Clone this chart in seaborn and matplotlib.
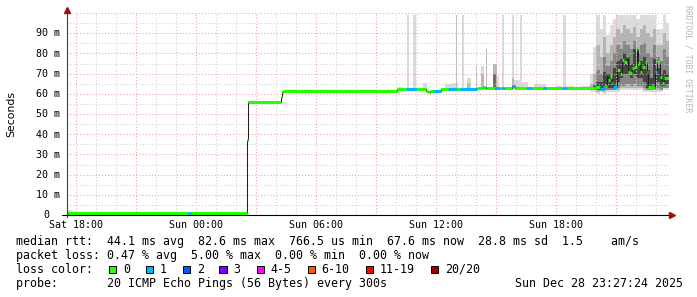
import matplotlib
matplotlib.use("Agg")
import matplotlib.pyplot as plt
from matplotlib.patches import Rectangle
from matplotlib.ticker import MultipleLocator, NullFormatter
from matplotlib import transforms
import numpy as np
import pandas as pd
import seaborn as sns

# ---------------- data (hours relative to Sun 00:00, values in ms) ----------------
x_end = 23.63
x_start = -6.45

# median rtt step segments: start hour, median ms, loss count (of 20)
med_start = [-6.45, -0.40, -0.25, 2.52, 2.60, 4.22, 4.29, 4.36, 10.05, 10.50, 11.02,
             11.50, 11.60, 11.70, 11.85, 12.25, 12.60, 13.05, 13.20, 14.04, 14.35,
             14.44, 14.53, 14.94, 15.18, 15.27, 15.43, 15.77, 15.94, 16.52, 16.77,
             17.33, 17.52, 18.28, 18.52, 19.94, 20.19, 20.32, 20.44, 20.52, 20.60,
             20.69, 20.77, 20.85, 21.02, 21.19, 21.30, 21.40, 21.52, 21.60, 21.69,
             21.80, 21.90, 22.02, 22.10, 22.19, 22.30, 22.44, 22.52, 22.60, 22.72,
             22.82, 22.93, 23.02, 23.19, 23.27, 23.39, 23.49]
med_ms = [0.8, 0.8, 0.8, 37.0, 56.0, 58.6, 61.0, 61.5, 62.2, 62.6, 62.4,
          61.6, 61.0, 61.6, 61.4, 62.4, 62.6, 62.6, 62.6, 62.7, 63.6,
          62.7, 62.7, 62.7, 62.7, 62.7, 62.7, 63.9, 62.7, 62.7, 62.7,
          62.7, 62.7, 62.7, 62.7, 63.5, 62.5, 63.5, 64.0, 69.6, 66.8,
          68.5, 65.2, 63.5, 72.0, 70.0, 76.7, 75.9, 78.4, 71.0, 70.1,
          72.6, 73.4, 82.2, 75.1, 71.0, 73.4, 75.9, 71.0, 63.5, 63.5,
          63.0, 71.0, 75.9, 68.5, 65.2, 67.7, 67.6]
med_loss = [0, 1, 0, 0, 0, 0, 0, 0, 0, 1, 0,
            0, 0, 0, 1, 0, 1, 0, 1, 0, 0,
            1, 0, 1, 0, 1, 0, 1, 0, 1, 0,
            1, 0, 1, 0, 0, 1, 1, 0, 0, 0,
            0, 0, 1, 0, 0, 0, 0, 0, 0, 0,
            0, 0, 0, 0, 0, 0, 0, 0, 0, 0,
            0, 1, 0, 0, 0, 0, 0]

# isolated smoke bursts: start hour, end hour, low ms, high ms, shade level
spike_t0 = [-6.40, -0.25, 10.10, 10.52, 10.83, 11.34, 12.43, 12.78, 12.99, 13.27, 13.52, 13.55,
            13.97, 14.24, 14.26, 14.49, 14.84, 14.86, 15.04, 15.27, 15.77, 15.79, 15.89, 16.19,
            16.29, 16.90, 18.00, 18.33, 18.49, 19.20]
spike_t1 = [-6.20, -0.15, 10.27, 10.64, 10.99, 11.54, 12.78, 13.09, 13.05, 13.39, 13.72, 13.68,
            14.05, 14.39, 14.37, 14.54, 15.04, 15.00, 15.14, 15.39, 15.89, 15.88, 16.19, 16.29,
            16.60, 17.50, 18.30, 18.49, 18.90, 19.67]
spike_lo = [0.0, 0.0, 61.5, 61.5, 61.5, 61.5, 62.0, 62.0, 62.0, 62.0, 62.0, 62.0,
            62.0, 62.0, 62.0, 62.0, 62.0, 62.0, 62.0, 62.0, 62.0, 62.0, 62.0, 62.0,
            62.0, 62.0, 62.0, 62.0, 62.0, 62.0]
spike_hi = [2.5, 1.6, 63.5, 99.0, 99.0, 65.5, 65.0, 65.5, 99.0, 99.0, 68.0, 65.5,
            74.0, 74.0, 70.0, 82.0, 75.0, 70.0, 69.0, 99.0, 99.0, 68.0, 67.0, 99.0,
            66.0, 65.0, 64.0, 99.0, 64.0, 64.0]
spike_level = [0, 0, 0, 0, 0, 0, 0, 0, 1, 0, 0, 1,
               1, 0, 1, 1, 1, 2, 0, 0, 0, 1, 0, 0,
               0, 0, 0, 0, 0, 0]

# dense smoke at the end of the day, 10 minute bins
smoke_t = [19.67, 19.83, 20.00, 20.17, 20.33, 20.50, 20.67, 20.83, 21.00, 21.17, 21.33, 21.50,
           21.67, 21.83, 22.00, 22.17, 22.33, 22.50, 22.67, 22.83, 23.00, 23.17, 23.33, 23.50]
l1_hi = [70, 83, 99, 92, 99, 89, 94, 97, 99, 99, 99, 99, 99, 99, 97, 99, 99, 99, 99, 99, 92, 92, 99, 95]
l1_lo = [61, 61, 60, 61, 60, 61, 61, 61, 61, 62, 62, 62, 62, 62, 62, 62, 61, 61, 61, 61, 61, 61, 62, 62]
l2_hi = [65, 70, 84, 78, 88, 80, 84, 88, 92, 90, 94, 92, 90, 93, 88, 92, 94, 90, 88, 92, 84, 84, 90, 86]
l2_lo = [62, 62, 61, 62, 61, 62, 62, 62, 62, 63, 63, 63, 63, 63, 63, 63, 62, 62, 62, 62, 62, 62, 63, 63]
l3_hi = [63, 65, 72, 70, 78, 74, 76, 80, 84, 82, 86, 84, 82, 86, 80, 84, 85, 80, 78, 84, 78, 76, 82, 78]
l3_lo = [62, 62, 62, 62, 62, 62, 62, 62, 63, 64, 64, 65, 64, 65, 64, 64, 63, 62, 62, 63, 63, 62, 63, 63]
l4_hi = [62.5, 64, 66, 66, 71, 70, 69, 73, 76, 77, 80, 78, 75, 82, 74, 76, 78, 72, 68, 77, 73, 70, 72, 70]
l4_lo = [62, 62, 62, 62, 63, 63, 63, 63, 66, 68, 70, 70, 68, 70, 68, 68, 66, 63, 63, 65, 66, 64, 64, 65]

loss_keys = [0, 1, 2, 3, 4, 6, 11, 20]
loss_labels = ["0", "1", "2", "3", "4-5", "6-10", "11-19", "20/20"]
loss_colors = ["#26ff00", "#00b8ff", "#0059ff", "#7e00ff", "#ff00ff", "#ff5500", "#ff0000", "#a10000"]

x_tick_hours = [-6, 0, 6, 12, 18]
x_tick_labels = ["Sat 18:00", "Sun 00:00", "Sun 06:00", "Sun 12:00", "Sun 18:00"]
y_tick_vals = [0, 10, 20, 30, 40, 50, 60, 70, 80, 90]
y_tick_labels = ["0", "10 m", "20 m", "30 m", "40 m", "50 m", "60 m", "70 m", "80 m", "90 m"]

legend_lines = [
    "median rtt:  44.1 ms avg  82.6 ms max  766.5 us min  67.6 ms now  28.8 ms sd  1.5    am/s",
    "packet loss: 0.47 % avg  5.00 % max  0.00 % min  0.00 % now",
    "loss color:",
    "probe:       20 ICMP Echo Pings (56 Bytes) every 300s",
]
date_text = "Sun Dec 28 23:27:24 2025"

# ---------------- layout ----------------
W, H = 697, 297
L, R, T, B = 67, 669, 13, 215
def fx(px): return px / W
def fy(py): return 1 - py / H
def axx(px): return (px - L) / (R - L)
def axy(py): return (B - py) / (B - T)

sns.set_theme(style="white")
plt.rcParams["font.family"] = ["DejaVu Sans Mono", "DejaVu Sans"]
MONO = "DejaVu Sans Mono"

fig = plt.figure(figsize=(W / 100, H / 100), dpi=100, facecolor="white")
ax = fig.add_axes([fx(L), fy(B), (R - L) / W, (B - T) / H])
ax.set_facecolor("white")
ax.set_xlim(x_start, x_end)
ax.set_ylim(0, 100)

# smoke: isolated bursts
shade = ["#dadada", "#b8b8b8", "#6e6e6e"]
for t0, t1, lo, hi, lv in sorted(zip(spike_t0, spike_t1, spike_lo, spike_hi, spike_level), key=lambda r: r[4]):
    ax.bar(t0, hi - lo, width=t1 - t0, bottom=lo, align="edge", color=shade[lv],
           linewidth=0, zorder=1)

# smoke: dense layers
st = smoke_t + [x_end]
def ext(a): return list(a) + [a[-1]]
for lo, hi, c in [(l1_lo, l1_hi, "#dcdcdc"), (l2_lo, l2_hi, "#b4b4b4"),
                  (l3_lo, l3_hi, "#868686"), (l4_lo, l4_hi, "#454545")]:
    ax.fill_between(st, ext(lo), ext(hi), step="post", color=c, linewidth=0, zorder=1)

# median: thin dark line plus colored loss segments
med_df = pd.DataFrame({"t": med_start + [x_end], "ms": med_ms + [med_ms[-1]]})
sns.lineplot(data=med_df, x="t", y="ms", drawstyle="steps-post", color="#202020",
             linewidth=0.75, estimator=None, sort=False, ax=ax, zorder=3)
seg_end = med_start[1:] + [x_end]
cmap = dict(zip(loss_keys, loss_colors))
ax.hlines(med_ms, med_start, seg_end, colors=[cmap[k] for k in med_loss],
          linewidth=2.2, zorder=4)

# grid
ax.xaxis.set_major_locator(MultipleLocator(3))
ax.xaxis.set_minor_locator(MultipleLocator(1))
ax.yaxis.set_major_locator(MultipleLocator(10))
ax.yaxis.set_minor_locator(MultipleLocator(5))
ax.xaxis.set_major_formatter(NullFormatter())
ax.yaxis.set_major_formatter(NullFormatter())
ax.set_axisbelow(False)
ax.grid(which="major", color="#efa0a0", linestyle=(0, (1, 2)), linewidth=0.75)
ax.grid(which="minor", color="#cfcfcf", linestyle=(0, (1, 2)), linewidth=0.75)
ax.tick_params(axis="both", which="both", length=0)
ax.set_xlabel("")
ax.set_ylabel("")
for s in ax.spines.values():
    s.set_visible(False)

# axis lines and arrows
ax.plot([axx(62), axx(670)], [0, 0], transform=ax.transAxes, color="black", lw=0.8,
        clip_on=False, zorder=5)
ax.plot([0, 0], [axy(217), axy(10)], transform=ax.transAxes, color="#404040", lw=0.8,
        clip_on=False, zorder=5)
ax.plot([axx(672)], [0], transform=ax.transAxes, marker=">", ms=4, color="#9b1010",
        mec="#9b1010", clip_on=False, zorder=6)
ax.plot([0], [axy(9.5)], transform=ax.transAxes, marker="^", ms=4, color="#9b1010",
        mec="#9b1010", clip_on=False, zorder=6)

# tick labels
tx = transforms.blended_transform_factory(ax.transData, fig.transFigure)
for h, lab in zip(x_tick_hours, x_tick_labels):
    ax.text(h, fy(227.7), lab, transform=tx, ha="center", va="baseline",
            family=MONO, size=7.2, color="black")
ty = transforms.offset_copy(transforms.blended_transform_factory(fig.transFigure, ax.transData),
                            fig=fig, y=-3.3, units="dots")
for v, lab in zip(y_tick_vals, y_tick_labels):
    xr = 49 if lab == "0" else 60
    ax.text(fx(xr), v, lab, transform=ty, ha="right", va="baseline",
            family=MONO, size=7.2, color="black")

fig.text(fx(11), fy(114), "Seconds", rotation=90, ha="center", va="center",
         family="DejaVu Sans", size=7.8, color="black")
fig.text(fx(688), fy(5), "RRDTOOL / TOBI OETIKER", rotation=270, ha="center", va="top",
         family=MONO, size=5.9, color="#b8b8b8")

# legend text
baselines = [245.3, 258.9, 272.9, 286.8]
for s, b in zip(legend_lines, baselines):
    fig.text(fx(16), fy(b), s, ha="left", va="baseline", family=MONO, size=8.4, color="black")
fig.text(fx(683), fy(286.8), date_text, ha="right", va="baseline", family=MONO, size=8.4,
         color="black")

box_x = [109, 146, 183, 219.3, 256.7, 307.7, 365.7, 431]
for bx, lab, c in zip(box_x, loss_labels, loss_colors):
    fig.add_artist(Rectangle((fx(bx), fy(273)), 7.3 / W, 7.3 / H, transform=fig.transFigure,
                             facecolor=c, edgecolor="black", linewidth=0.7))
    fig.text(fx(bx + 14), fy(272.9), lab, ha="left", va="baseline", family=MONO, size=8.4,
             color="black")

fig.savefig("out.png", dpi=100, facecolor="white")
